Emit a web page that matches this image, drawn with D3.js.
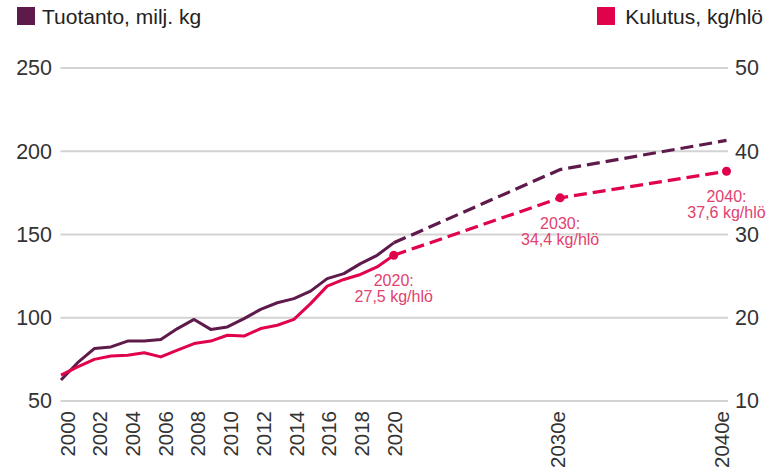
<!DOCTYPE html>
<html>
<head>
<meta charset="utf-8">
<script src="https://cdn.jsdelivr.net/npm/d3@7"></script>
<style>
  html, body { margin: 0; padding: 0; background: #fff; }
  svg { display: block; font-family: "Liberation Sans", Arial, sans-serif; }
</style>
</head>
<body>
<svg id="chart" width="766" height="474"></svg>
<script>
// ---- Data ----
const years = [2000, 2001, 2002, 2003, 2004, 2005, 2006, 2007, 2008, 2009, 2010,
               2011, 2012, 2013, 2014, 2015, 2016, 2017, 2018, 2019, 2020];
const production = [62.6, 73, 81.5, 82.5, 86, 86, 87, 93.5, 99, 93, 94.5,
                    99.5, 105, 109, 111.5, 116, 123.5, 126.5, 132.5, 137.5, 145];
const consumption = [13.1, 14.1, 15.0, 15.4, 15.5, 15.8, 15.3, 16.1, 16.9, 17.2, 17.9,
                     17.8, 18.7, 19.1, 19.8, 21.7, 23.8, 24.6, 25.2, 26.1, 27.5];
const forecastYears = [2020, 2030, 2040];
const productionForecast = [145, 189, 206.5];
const consumptionForecast = [27.5, 34.4, 37.6];
const tickYears = [2000, 2002, 2004, 2006, 2008, 2010, 2012, 2014, 2016, 2018, 2020, 2030, 2040];
const tickLabels = ["2000", "2002", "2004", "2006", "2008", "2010", "2012", "2014", "2016", "2018", "2020", "2030e", "2040e"];
const leftTicks = [50, 100, 150, 200, 250];
const rightTicks = [10, 20, 30, 40, 50];
const legendLabels = ["Tuotanto, milj. kg", "Kulutus, kg/hlö"];

const colProd = "#5f1a4c";
const colCons = "#e0034c";
const colNote = "#e2416f";

const svg = d3.select("#chart");

// ---- Scales ----
const x = d3.scaleLinear().domain([2000, 2040]).range([61, 726.5]);
const xLab = d3.scaleLinear().domain([2000, 2040]).range([67, 721]);
const yL = d3.scaleLinear().domain([50, 250]).range([401, 68]);
const yR = d3.scaleLinear().domain([10, 50]).range([401, 68]);

// ---- Gridlines ----
svg.append("g").selectAll("line").data(leftTicks).join("line")
  .attr("x1", 60.5).attr("x2", 728)
  .attr("y1", d => yL(d)).attr("y2", d => yL(d))
  .attr("stroke", "#d3d3d3").attr("stroke-width", 2);

// ---- Left axis ----
const axL = d3.axisLeft(yL).tickValues(leftTicks).tickSize(0).tickPadding(0);
const gL = svg.append("g").attr("transform", "translate(52,0)").call(axL);
gL.select(".domain").remove();
gL.selectAll("text").attr("font-size", 21.5).attr("fill", "#333")
  .attr("font-family", "Liberation Sans, Arial, sans-serif");

// ---- Right axis ----
const axR = d3.axisRight(yR).tickValues(rightTicks).tickSize(0).tickPadding(0);
const gR = svg.append("g").attr("transform", "translate(735,0)").call(axR);
gR.select(".domain").remove();
gR.selectAll("text").attr("font-size", 21.5).attr("fill", "#333")
  .attr("font-family", "Liberation Sans, Arial, sans-serif");

// ---- X axis labels ----
const axX = d3.axisBottom(xLab).tickValues(tickYears)
  .tickFormat((d, i) => tickLabels[i]).tickSize(0).tickPadding(0);
const gX = svg.append("g").attr("transform", "translate(0,411)").call(axX);
gX.select(".domain").remove();
gX.selectAll("text")
  .attr("font-size", 20.5).attr("fill", "#333")
  .attr("font-family", "Liberation Sans, Arial, sans-serif")
  .attr("text-anchor", "end")
  .attr("transform", "rotate(-90)")
  .attr("x", 0).attr("y", 0).attr("dy", "0.35em");

// ---- Lines ----
const histProd = years.map((y, i) => [y, production[i]]);
const histCons = years.map((y, i) => [y, consumption[i]]);
const fcProd = forecastYears.map((y, i) => [y, productionForecast[i]]);
const fcCons = forecastYears.map((y, i) => [y, consumptionForecast[i]]);

const lineL = d3.line().x(d => x(d[0])).y(d => yL(d[1]));
const lineR = d3.line().x(d => x(d[0])).y(d => yR(d[1]));

svg.append("path").datum(fcProd).attr("d", lineL)
  .attr("fill", "none").attr("stroke", colProd).attr("stroke-width", 3.2)
  .attr("stroke-dasharray", "13,6");
svg.append("path").datum(fcCons).attr("d", lineR)
  .attr("fill", "none").attr("stroke", colCons).attr("stroke-width", 3.2)
  .attr("stroke-dasharray", "13,6");
svg.append("path").datum(histProd).attr("d", lineL)
  .attr("fill", "none").attr("stroke", colProd).attr("stroke-width", 3)
  .attr("stroke-linejoin", "round");
svg.append("path").datum(histCons).attr("d", lineR)
  .attr("fill", "none").attr("stroke", colCons).attr("stroke-width", 3)
  .attr("stroke-linejoin", "round");

// ---- Dots ----
svg.append("g").selectAll("circle").data(fcCons).join("circle")
  .attr("cx", d => x(d[0])).attr("cy", d => yR(d[1])).attr("r", 4.5)
  .attr("fill", colCons);

// ---- Annotations ----
const notes = svg.append("g").selectAll("text").data(fcCons).join("text")
  .attr("text-anchor", "middle").attr("font-size", 16).attr("fill", colNote)
  .attr("x", d => x(d[0])).attr("y", d => yR(d[1]) + 31);
notes.append("tspan").attr("x", d => x(d[0])).text(d => d[0] + ":");
notes.append("tspan").attr("x", d => x(d[0])).attr("dy", 16)
  .text(d => String(d[1].toFixed(1)).replace(".", ",") + " kg/hlö");

// ---- Legend ----
svg.append("rect").attr("x", 17).attr("y", 7).attr("width", 18).attr("height", 18).attr("fill", colProd);
svg.append("text").attr("x", 42).attr("y", 24).attr("font-size", 21).attr("fill", "#222")
  .text(legendLabels[0]);
svg.append("rect").attr("x", 597).attr("y", 7).attr("width", 18).attr("height", 18).attr("fill", colCons);
svg.append("text").attr("x", 763).attr("y", 24).attr("font-size", 21).attr("fill", "#222")
  .attr("text-anchor", "end").text(legendLabels[1]);
</script>
</body>
</html>
